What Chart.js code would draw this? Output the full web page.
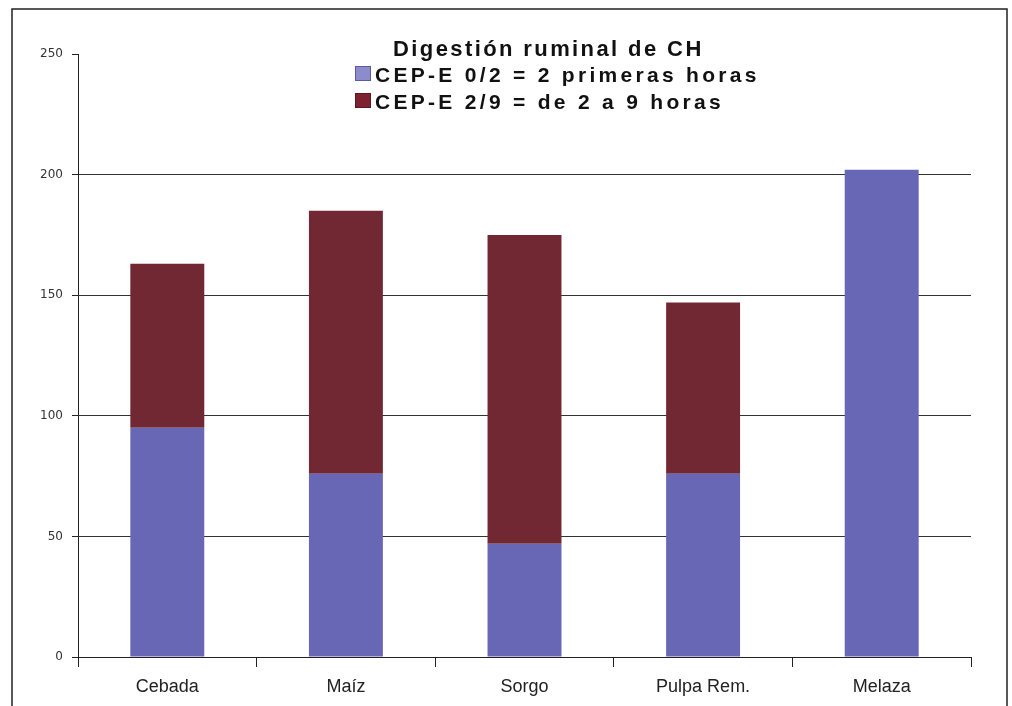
<!DOCTYPE html>
<html>
<head>
<meta charset="utf-8">
<script src="https://cdn.jsdelivr.net/npm/chart.js@4"></script>
<style>
  html, body { margin: 0; padding: 0; background: #fff; }
  #wrap { width: 1012px; height: 706px; }
</style>
</head>
<body>
<div id="wrap"><canvas id="c" width="1012" height="706"></canvas></div>
<script>
// Ruminal digestion of carbohydrates by feedstuff
const TITLE = 'Digestión ruminal de CH';
const categories = ['Cebada', 'Maíz', 'Sorgo', 'Pulpa Rem.', 'Melaza'];
const seriesNames = ['CEP-E 0/2 = 2 primeras horas', 'CEP-E 2/9 = de 2 a 9 horas'];
const cep02 = [95, 76, 47, 76, 202];
const cep29 = [68, 109, 128, 71, 0];
const yTicks = [0, 50, 100, 150, 200, 250];

const BLUE = '#6767b5';
const RED = '#722833';

// draw text one glyph at a time with extra tracking
function spacedText(ctx, text, x, y, spacing) {
  let cx = x;
  for (const ch of text) {
    ctx.fillText(ch, cx, y);
    cx += ctx.measureText(ch).width + spacing;
  }
}

const headerPlugin = {
  id: 'header',
  afterDraw(chart) {
    const ctx = chart.ctx;
    ctx.save();
    // outer frame
    ctx.strokeStyle = '#222';
    ctx.lineWidth = 1.5;
    ctx.strokeRect(12, 9, 995, 710);

    ctx.fillStyle = '#111';
    ctx.textBaseline = 'alphabetic';
    ctx.textAlign = 'left';
    ctx.font = 'bold 22px "Liberation Sans", Arial, sans-serif';
    spacedText(ctx, TITLE, 393, 56, 2.4);

    ctx.font = 'bold 21px "Liberation Sans", Arial, sans-serif';
    chart.data.datasets.forEach((ds, i) => {
      const y = 82 + i * 27;
      ctx.fillStyle = ds.legendSwatch;
      ctx.fillRect(355, y - 16, 16, 15);
      ctx.strokeStyle = ds.legendEdge;
      ctx.lineWidth = 1;
      ctx.strokeRect(355.5, y - 15.5, 15, 14);
      ctx.fillStyle = '#111';
      spacedText(ctx, ds.label, 375, y, 3.3);
    });
    ctx.restore();
  }
};

new Chart(document.getElementById('c'), {
  type: 'bar',
  data: {
    labels: categories,
    datasets: [
      { label: seriesNames[0], data: cep02, backgroundColor: BLUE, borderWidth: 0,
        legendSwatch: '#8c8ccc', legendEdge: '#5a5aa0' },
      { label: seriesNames[1], data: cep29, backgroundColor: RED, borderWidth: 0,
        legendSwatch: '#7c2230', legendEdge: '#5a1a24' }
    ]
  },
  options: {
    responsive: false,
    devicePixelRatio: 1,
    animation: false,
    layout: { padding: { left: 0, top: 54, right: 41, bottom: 0 } },
    datasets: { bar: { categoryPercentage: 1, barPercentage: 0.414 } },
    plugins: {
      legend: { display: false },
      title: { display: false },
      tooltip: { enabled: false }
    },
    scales: {
      x: {
        stacked: true,
        afterFit(scale) { scale.height = 49; },
        grid: {
          offset: true,
          drawOnChartArea: false,
          drawTicks: true,
          tickLength: 10,
          tickColor: '#222',
          lineWidth: 1
        },
        border: { display: true, color: '#222', width: 1 },
        ticks: {
          color: '#222',
          padding: 9,
          maxRotation: 0,
          font: { family: '"Liberation Sans", Arial, sans-serif', size: 18 }
        }
      },
      y: {
        stacked: true,
        min: 0,
        max: 250,
        afterFit(scale) { scale.width = 78; },
        afterBuildTicks(scale) { scale.ticks = yTicks.map(v => ({ value: v })); },
        grid: {
          drawTicks: true,
          tickLength: 6,
          tickColor: '#222',
          color: (c) => (c.tick && (c.tick.value === 250 || c.tick.value === 0)) ? 'rgba(0,0,0,0)' : '#333',
          lineWidth: 1
        },
        border: { display: true, color: '#222', width: 1 },
        ticks: {
          color: '#333',
          padding: 9,
          font: { family: '"DejaVu Sans", sans-serif', size: 12 }
        }
      }
    }
  },
  plugins: [headerPlugin]
});
</script>
</body>
</html>
